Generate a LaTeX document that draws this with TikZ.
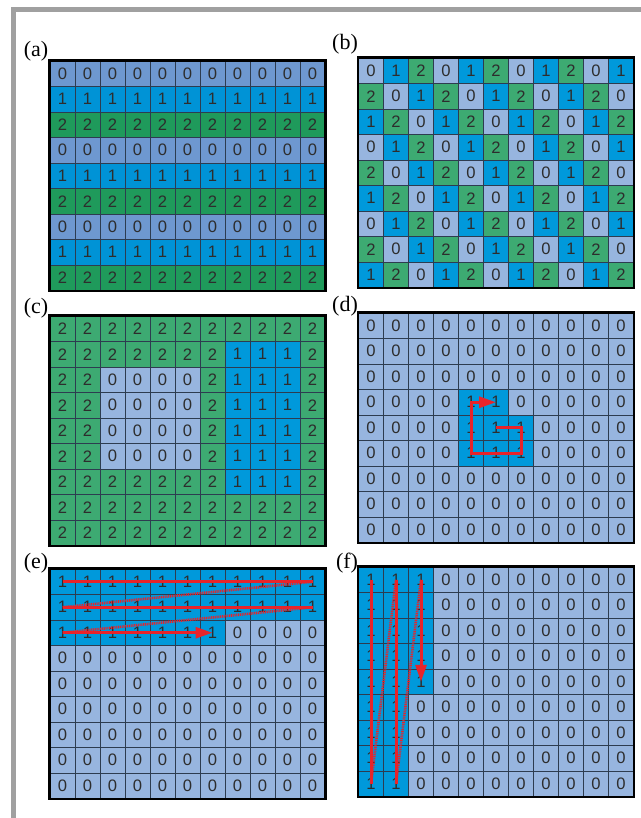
\documentclass[tikz,border=0pt]{standalone}
\usepackage{fontspec}
\setmainfont{Liberation Serif}
\newfontfamily\digitfont{Liberation Sans}
\usetikzlibrary{arrows.meta}

\definecolor{a0}{RGB}{110,152,208}
\definecolor{a1}{RGB}{0,147,214}
\definecolor{a2}{RGB}{31,154,91}
\definecolor{b0}{RGB}{151,181,223}
\definecolor{b1}{RGB}{0,153,219}
\definecolor{b2}{RGB}{61,170,114}
\definecolor{gridline}{RGB}{45,60,80}
\definecolor{digit}{RGB}{45,45,45}
\definecolor{routered}{RGB}{232,36,42}
\definecolor{edgegray}{RGB}{160,160,160}

% name, x0, y0, palette, value rule
\newcommand{\cellgrid}[5]{%
	\foreach \r in {0,...,8} {
		\foreach \c in {0,...,10} {
			\pgfmathtruncatemacro{\v}{#5}
			\node[cell, fill=#4\v] (#1-\r-\c) at ({#2+(\c+0.5)*25}, {#3+(\r+0.5)*25.5}) {\v};
		}
	}
	\draw[gridframe] (#1-0-0.north west) rectangle (#1-8-10.south east);
}

\begin{document}
\begin{tikzpicture}[
		x=0.5pt, y=-0.5pt,
		cell/.style={draw=gridline, line width=0.35pt, minimum width=12.5pt, minimum height=12.75pt, inner sep=0pt, text=digit, font=\digitfont\fontsize{8.3}{9}\selectfont},
		gridframe/.style={draw=black, line width=1.3pt},
		tag/.style={font=\fontsize{11}{12}\selectfont},
		route/.style={draw=routered, line width=1.5pt},
		hop/.style={draw=routered, line width=1.3pt, dash pattern=on 0.5pt off 0.4pt},
		tip/.style={-{Triangle[length=8.5pt, width=5.5pt]}},
	]
	\useasboundingbox (0,0) rectangle (641,818);
	\draw[edgegray, line width=2.5pt] (13.5,818) -- (13.5,9.5) -- (641,9.5);

	\node[tag] (la) at (36,51) {(a)};
	\node[tag] (lb) at (345,44) {(b)};
	\node[tag] (lc) at (36,308) {(c)};
	\node[tag] (ld) at (345,306) {(d)};
	\node[tag] (le) at (36,563) {(e)};
	\node[tag] (lf) at (347,563) {(f)};

	\cellgrid{a}{50}{61}{a}{mod(\r,3)}
	\cellgrid{b}{358.5}{58}{b}{mod(\c+2*\r,3)}
	\cellgrid{c}{50}{316}{b}{(\r>=1 && \r<=6 && \c>=7 && \c<=9) ? 1 : ((\r>=2 && \r<=5 && \c>=2 && \c<=5) ? 0 : 2)}
	\cellgrid{d}{358.5}{313}{b}{((\r==3 && \c>=4 && \c<=5) || (\r>=4 && \r<=5 && \c>=4 && \c<=6)) ? 1 : 0}
	\cellgrid{e}{50}{569}{b}{(\r<2 || (\r==2 && \c<=6)) ? 1 : 0}
	\cellgrid{f}{358.5}{567}{b}{(\c<2 || (\c==2 && \r<=4)) ? 1 : 0}

	\draw[route, tip] (d-4-5.center) -- (d-4-6.center) -- (d-5-6.center) -- (d-5-4.center) -- (d-3-4.center) -- (d-3-5.center);

	\draw[route] (e-0-0.center) -- (e-0-10.center);
	\draw[hop] (e-0-10.center) -- (e-1-0.center);
	\draw[route] (e-1-0.center) -- (e-1-10.center);
	\draw[hop] (e-1-10.center) -- (e-2-0.center);
	\draw[route, tip] (e-2-0.center) -- (e-2-6.center);

	\draw[route] (f-0-0.center) -- (f-8-0.center);
	\draw[hop] (f-8-0.center) -- (f-0-1.center);
	\draw[route] (f-0-1.center) -- (f-8-1.center);
	\draw[hop] (f-8-1.center) -- (f-0-2.center);
	\draw[route, tip] (f-0-2.center) -- (f-4-2.center);
\end{tikzpicture}
\end{document}
